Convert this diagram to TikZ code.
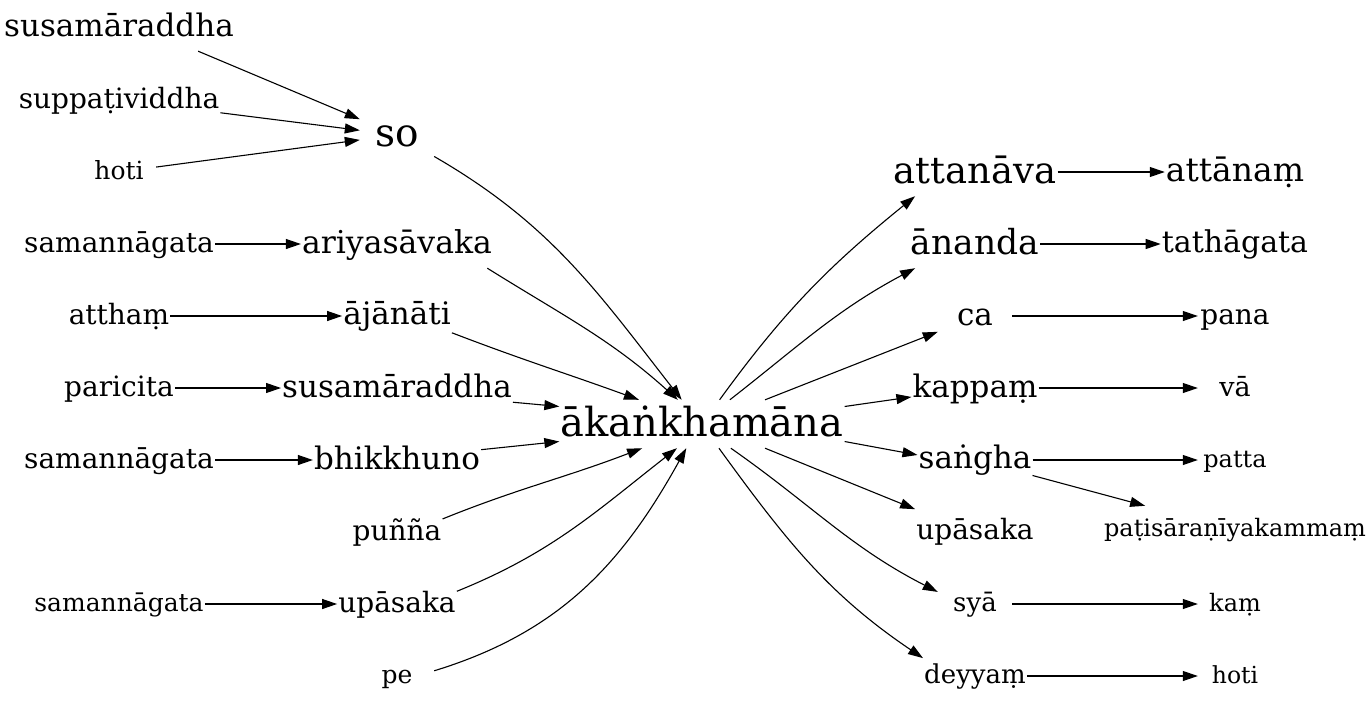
\documentclass[tikz,border=0pt]{standalone}
\usepackage{fontspec}
\setmainfont{DejaVu Serif}
\usetikzlibrary{arrows.meta}

\begin{document}
\begin{tikzpicture}[
    x=1pt, y=1pt,
    w/.style={inner xsep=1pt, inner ysep=0pt, minimum width=74pt, minimum height=48pt,
      font=\fontsize{#1}{#1}\selectfont, execute at begin node={\rule[-0.2em]{0pt}{1em}}},
    arr/.style={->, line width=1.1pt},
    >={Triangle[length=15pt,width=10pt]}
  ]
    \useasboundingbox (0,0) rectangle (1372,-707);

    % columns
    \def\cA{119} \def\cB{397} \def\cC{702} \def\cD{975} \def\cE{1235}

    % left words
    \node[w=31] (susam)  at (\cA,-27)  {susamāraddha};
    \node[w=28] (suppat) at (\cA,-100) {suppaṭividdha};
    \node[w=25] (hotiA)  at (\cA,-172) {hoti};
    \node[w=28] (saman1) at (\cA,-244) {samannāgata};
    \node[w=28] (attham) at (\cA,-316) {atthaṃ};
    \node[w=28] (paric)  at (\cA,-388) {paricita};
    \node[w=28] (saman2) at (\cA,-460) {samannāgata};
    \node[w=25] (saman3) at (\cA,-604) {samannāgata};

    \node[w=39] (so)      at (\cB,-135) {so};
    \node[w=31.5] (ariya) at (\cB,-244) {ariyasāvaka};
    \node[w=31] (ajan)    at (\cB,-316) {ājānāti};
    \node[w=31] (susam2)  at (\cB,-388) {susamāraddha};
    \node[w=31] (bhikkhu) at (\cB,-460) {bhikkhuno};
    \node[w=28] (punna)   at (\cB,-532) {puñña};
    \node[w=28] (upasL)   at (\cB,-604) {upāsaka};
    \node[w=25] (pe)      at (\cB,-676) {pe};

    % centre
    \node[w=40] (akan) at (\cC,-424) {ākaṅkhamāna};

    % right words
    \node[w=37] (attanava) at (\cD,-172) {attanāva};
    \node[w=34.5] (ananda) at (\cD,-244) {ānanda};
    \node[w=31] (ca)       at (\cD,-316) {ca};
    \node[w=31] (kappam)   at (\cD,-388) {kappaṃ};
    \node[w=31] (sangha)   at (\cD,-460) {saṅgha};
    \node[w=28] (upasR)    at (\cD,-531) {upāsaka};
    \node[w=26] (sya)      at (\cD,-604) {syā};
    \node[w=26] (deyyam)   at (\cD,-676) {deyyaṃ};

    \node[w=33] (attanam)   at (\cE,-172) {attānaṃ};
    \node[w=30] (tathagata) at (\cE,-244) {tathāgata};
    \node[w=28] (pana)      at (\cE,-316) {pana};
    \node[w=27] (va)        at (\cE,-388) {vā};
    \node[w=24] (patta)     at (\cE,-460) {patta};
    \node[w=24] (patis)     at (\cE,-530) {paṭisāraṇīyakammaṃ};
    \node[w=24] (kam)       at (\cE,-604) {kaṃ};
    \node[w=23.5] (hotiB)   at (\cE,-676) {hoti};

    % into so
    \draw[arr] (susam.-17) -- (so.157);
    \draw[arr] (suppat) -- (so);
    \draw[arr] (hotiA) -- (so);

    \draw[arr] (saman1) -- (ariya);
    \draw[arr] (attham) -- (ajan);
    \draw[arr] (paric) -- (susam2);
    \draw[arr] (saman2) -- (bhikkhu);
    \draw[arr] (saman3) -- (upasL);

    % into the centre
    \draw[arr] (so.-30) to[out=-30,in=128] (akan.130);
    \draw[arr] (ariya.-15) to[out=-32,in=138] (akan.135);
    \draw[arr] (ajan.-17) to[out=-21,in=160] (akan.159);
    \draw[arr] (susam2.-7) -- (akan.173);
    \draw[arr] (bhikkhu.7) -- (akan.187);
    \draw[arr] (punna.16) to[out=22,in=201] (akan.202);
    \draw[arr] (upasL.12) to[out=22,in=218] (akan.224);
    \draw[arr] (pe.8) to[out=17,in=241] (akan.237);

    % out of the centre
    \draw[arr] (akan.54) to[out=54,in=219] (attanava.202);
    \draw[arr] (akan.41) to[out=38,in=208] (ananda.202);
    \draw[arr] (akan.21) -- (ca.203);
    \draw[arr] (akan.7) -- (kappam.188);
    \draw[arr] (akan.-7) -- (sangha.175);
    \draw[arr] (akan.-21) -- (upasR.160);
    \draw[arr] (akan.-40) to[out=-35,in=153] (sya.162);
    \draw[arr] (akan.-55) to[out=-54,in=146] (deyyam.161);

    \draw[arr] (attanava) -- (attanam);
    \draw[arr] (ananda) -- (tathagata);
    \draw[arr] (ca) -- (pana);
    \draw[arr] (kappam) -- (va);
    \draw[arr] (sangha) -- (patta);
    \draw[arr] (sangha) -- (patis);
    \draw[arr] (sya) -- (kam);
    \draw[arr] (deyyam) -- (hotiB);
\end{tikzpicture}
\end{document}
